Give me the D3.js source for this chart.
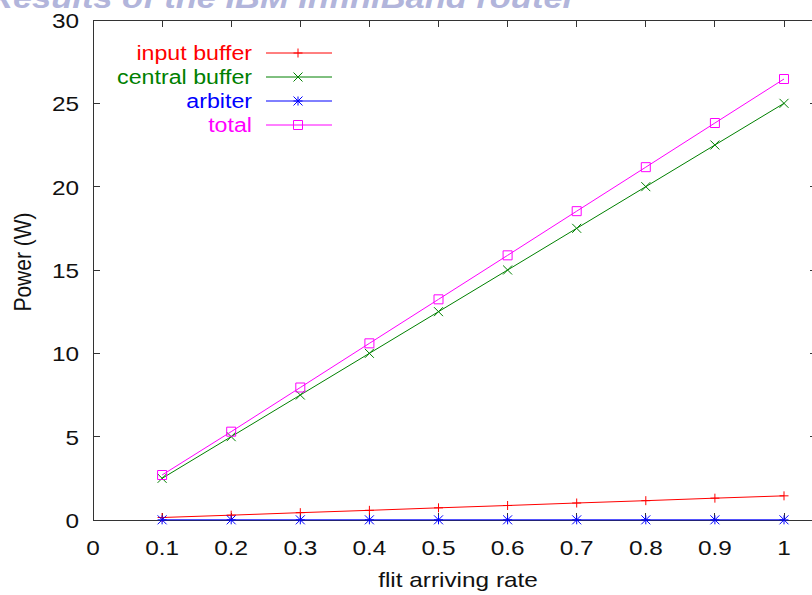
<!DOCTYPE html>
<html>
<head>
<meta charset="utf-8">
<script src="https://cdn.jsdelivr.net/npm/d3@7"></script>
<style>
  body { margin: 0; background: #fff; }
  text { font-family: "Liberation Sans", Arial, sans-serif; }
</style>
</head>
<body>
<script>
// data
const rates = [0.1, 0.2, 0.3, 0.4, 0.5, 0.6, 0.7, 0.8, 0.9, 1.0];
const inputBuffer = [0.15, 0.29, 0.44, 0.58, 0.73, 0.87, 1.02, 1.16, 1.31, 1.45];
const centralBuffer = [2.5, 5.0, 7.5, 10.0, 12.5, 15.0, 17.5, 20.0, 22.5, 25.0];
const arbiter = [0.01, 0.01, 0.01, 0.01, 0.01, 0.01, 0.01, 0.01, 0.01, 0.01];
const total = [2.7, 5.3, 7.95, 10.6, 13.24, 15.88, 18.53, 21.17, 23.82, 26.46];
const xTicks = [0, 0.1, 0.2, 0.3, 0.4, 0.5, 0.6, 0.7, 0.8, 0.9, 1];
const yTicks = [0, 5, 10, 15, 20, 25, 30];

const series = [
  {name: 'input buffer', values: inputBuffer, color: '#ff0000', mark: 'plus'},
  {name: 'central buffer', values: centralBuffer, color: '#008000', mark: 'cross'},
  {name: 'arbiter', values: arbiter, color: '#0000ff', mark: 'star'},
  {name: 'total', values: total, color: '#ff00ff', mark: 'square'}
];

const width = 812;
const height = 595;
// plot frame (right edge falls just outside the picture)
const frame = {left: 93, top: 20, bottom: 520, right: 817};
const sx = 1.16; // text is a little wider than tall in the original

const x = d3.scaleLinear().domain([0, 1]).range([frame.left, 784]);
const y = d3.scaleLinear().domain([0, 30]).range([frame.bottom, frame.top]);

const svg = d3.select('body').append('svg')
  .attr('width', width)
  .attr('height', height);

// clipped title at the very top
svg.append('text')
  .attr('x', -12).attr('y', 8)
  .attr('textLength', 588)
  .attr('lengthAdjust', 'spacingAndGlyphs')
  .style('font-size', '30px')
  .style('font-weight', 'bold')
  .style('font-style', 'italic')
  .attr('fill', '#b2b5db')
  .text('Results of the IBM InfiniBand router');

const label = (px, py, str, anchor, size) => svg.append('text')
  .attr('transform', `translate(${px},${py}) scale(${sx},1)`)
  .attr('text-anchor', anchor)
  .style('font-size', `${size}px`)
  .attr('fill', '#111')
  .text(str);

// frame
svg.append('rect')
  .attr('x', frame.left).attr('y', frame.top)
  .attr('width', frame.right - frame.left).attr('height', frame.bottom - frame.top)
  .attr('fill', 'none')
  .attr('stroke', '#333')
  .attr('stroke-width', 1)
  .attr('shape-rendering', 'crispEdges');

// inward ticks on all four sides
const ticks = svg.append('g')
  .attr('stroke', '#333')
  .attr('shape-rendering', 'crispEdges');
xTicks.forEach((t) => {
  ticks.append('line').attr('x1', x(t)).attr('x2', x(t)).attr('y1', frame.bottom).attr('y2', frame.bottom - 7);
  ticks.append('line').attr('x1', x(t)).attr('x2', x(t)).attr('y1', frame.top).attr('y2', frame.top + 7);
  label(x(t), 555, d3.format('~g')(t), 'middle', 21);
});
yTicks.forEach((t) => {
  ticks.append('line').attr('x1', frame.left).attr('x2', frame.left + 7).attr('y1', y(t)).attr('y2', y(t));
  ticks.append('line').attr('x1', frame.right).attr('x2', frame.right - 7).attr('y1', y(t)).attr('y2', y(t));
  label(79, y(t) + 8, String(t), 'end', 21);
});

// axis titles
label(458, 587, 'flit arriving rate', 'middle', 21);
svg.append('text')
  .attr('transform', `translate(31,262) rotate(-90) scale(1,${sx})`)
  .attr('text-anchor', 'middle')
  .style('font-size', '21px')
  .attr('fill', '#111')
  .text('Power (W)');

// point markers
const marker = (g, kind, px, py, color) => {
  const s = 4.5;
  const path = d3.path();
  if (kind === 'plus' || kind === 'star') {
    path.moveTo(px - s, py); path.lineTo(px + s, py);
    path.moveTo(px, py - s); path.lineTo(px, py + s);
  }
  if (kind === 'cross' || kind === 'star') {
    path.moveTo(px - s, py - s); path.lineTo(px + s, py + s);
    path.moveTo(px - s, py + s); path.lineTo(px + s, py - s);
  }
  if (kind === 'square') {
    path.rect(px - s, py - s, 2 * s, 2 * s);
  }
  g.append('path')
    .attr('d', path.toString())
    .attr('fill', 'none')
    .attr('stroke', color)
    .attr('stroke-width', 1);
};

const line = d3.line()
  .x((d) => x(d[0]))
  .y((d) => y(d[1]));

series.forEach((s) => {
  const pts = rates.map((r, i) => [r, s.values[i]]);
  const g = svg.append('g');
  g.append('path')
    .attr('d', line(pts))
    .attr('fill', 'none')
    .attr('stroke', s.color)
    .attr('stroke-width', 1);
  pts.forEach((p) => marker(g, s.mark, x(p[0]), y(p[1]), s.color));
});

// legend
const legend = svg.append('g');
series.forEach((s, i) => {
  const ly = 53 + i * 24;
  legend.append('text')
    .attr('transform', `translate(252,${ly + 7}) scale(${sx},1)`)
    .attr('text-anchor', 'end')
    .style('font-size', '20px')
    .attr('fill', s.color)
    .text(s.name);
  legend.append('line')
    .attr('x1', 266).attr('x2', 332)
    .attr('y1', ly).attr('y2', ly)
    .attr('stroke', s.color);
  marker(legend, s.mark, 298, ly, s.color);
});
</script>
</body>
</html>
